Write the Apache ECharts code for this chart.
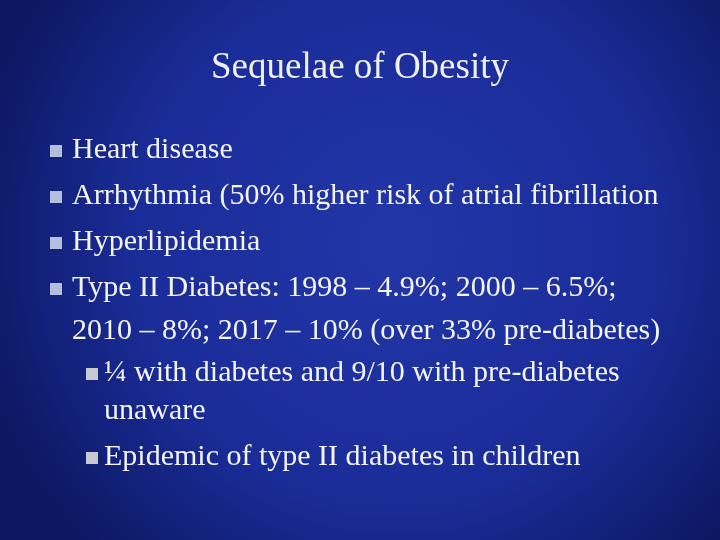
<!DOCTYPE html>
<html><head><meta charset="utf-8">
<script src="https://cdn.jsdelivr.net/npm/echarts@6/dist/echarts.min.js"></script>
<style>html,body{margin:0;padding:0;background:#0b1660}#c{width:720px;height:540px}</style>
</head><body><div id="c"></div>
<script>
const title = "Sequelae of Obesity";
const lineTexts = [
  "Heart disease",
  "Arrhythmia (50% higher risk of atrial fibrillation",
  "Hyperlipidemia",
  "Type II Diabetes: 1998 – 4.9%; 2000 – 6.5%;",
  "2010 – 8%; 2017 – 10% (over 33% pre-diabetes)",
  "¼ with diabetes and 9/10 with pre-diabetes",
  "unaware",
  "Epidemic of type II diabetes in children"
];
const lineLevels = [1,1,1,1,1,2,2,2];
const lineBullets = [true,true,true,true,false,true,false,true];
const lineYs = [150,196,242,288,331,373,411,457];

const chart = echarts.init(document.getElementById('c'));
const font = '"Liberation Serif","DejaVu Serif",serif';
const g = [{
  type:'rect', shape:{x:0,y:0,width:720,height:540}, silent:true,
  style:{fill:{type:'radial',x:0.55,y:0.45,r:0.8,colorStops:[
    {offset:0,color:'#2236a8'},{offset:0.6,color:'#1a2c98'},{offset:1,color:'#0c1862'}]}}
},{
  type:'text', x:360, y:68,
  style:{text:title, font:'37px '+font, fill:'#f0f0f0', textAlign:'center', textVerticalAlign:'middle'}
}];
lineTexts.forEach((t,i)=>{
  const lvl = lineLevels[i];
  const tx = lvl===1 ? 72 : 104;
  g.push({type:'text', x:tx, y:lineYs[i], style:{text:t, font:'30px '+font, fill:'#f4f4f4', textVerticalAlign:'middle'}});
  if(lineBullets[i]){
    const bx = lvl===1 ? 50 : 86;
    g.push({type:'rect', shape:{x:bx, y:lineYs[i]-5, width:12, height:12},
      style:{fill: lvl===1 ? '#b4bfe0' : '#c8c8d0'}});
  }
});
chart.setOption({graphic:g});
</script></body></html>
